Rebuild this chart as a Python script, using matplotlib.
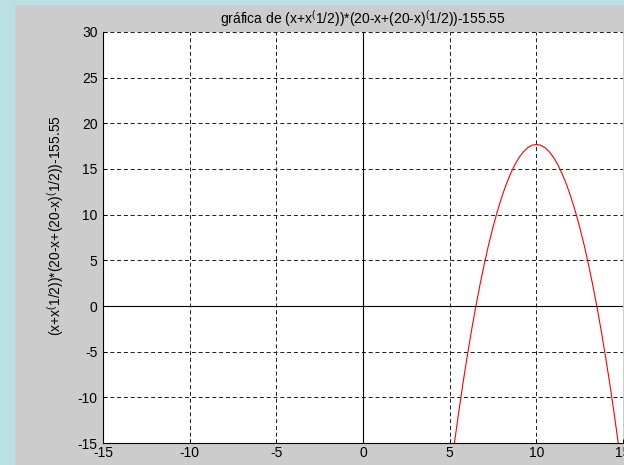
import matplotlib
matplotlib.use("Agg")
import matplotlib.pyplot as plt
from matplotlib.patches import Rectangle

# Curve samples (x, y)
x_vals = [5.0, 5.25, 5.5, 5.75, 6.0, 6.25, 6.5, 6.75, 7.0, 7.25, 7.5, 7.75, 8.0,
          8.25, 8.5, 8.75, 9.0, 9.25, 9.5, 9.75, 10.0, 10.25, 10.5, 10.75, 11.0,
          11.25, 11.5, 11.75, 12.0, 12.25, 12.5, 12.75, 13.0, 13.25, 13.5, 13.75,
          14.0, 14.25, 14.5, 14.75, 15.0]
y_vals = [-18.98, -15.36, -11.92, -8.68, -5.64, -2.79, -0.13, 2.34, 4.63, 6.73,
          8.64, 10.36, 11.90, 13.26, 14.43, 15.43, 16.25, 16.88, 17.33, 17.60,
          17.69, 17.60, 17.33, 16.88, 16.25, 15.43, 14.43, 13.26, 11.90, 10.36,
          8.64, 6.73, 4.63, 2.34, -0.13, -2.79, -5.64, -8.68, -11.92, -15.36, -18.98]
x_ticks = [-15, -10, -5, 0, 5, 10, 15]
y_ticks = [-15, -10, -5, 0, 5, 10, 15, 20, 25, 30]

title = "gráfica de (x+x$^{(}$1/2))*(20-x+(20-x)$^{(}$1/2))-155.55"
ylabel = "(x+x$^{(}$1/2))*(20-x+(20-x)$^{(}$1/2))-155.55"

plt.rcParams['font.family'] = ['Liberation Sans', 'DejaVu Sans']
plt.rcParams['mathtext.fontset'] = 'custom'
plt.rcParams['mathtext.rm'] = 'Liberation Sans'
plt.rcParams['axes.unicode_minus'] = False

W, H = 624, 465
fig = plt.figure(figsize=(W / 100, H / 100), dpi=100)
fig.patch.set_facecolor('#b9e0e3')
fig.patches.append(Rectangle((15 / W, 0), 1 - 15 / W, (H - 5) / H,
                             transform=fig.transFigure, facecolor='#cccccc',
                             edgecolor='none', zorder=-10))

ax = fig.add_axes([103 / W, (H - 443) / H, (623 - 103) / W, (443 - 32) / H])
ax.set_facecolor('white')

grid_kw = dict(color='#222222', lw=0.72, linestyle=(0, (4, 2.8)), zorder=1)
for xt in x_ticks:
    if xt != 0:
        ax.axvline(xt, **grid_kw)
for yt in y_ticks:
    if yt != 0:
        ax.axhline(yt, **grid_kw)
ax.axvline(0, color='black', lw=0.8, zorder=2)
ax.axhline(0, color='black', lw=0.8, zorder=2)

ax.plot(x_vals, y_vals, color='red', lw=0.8, zorder=3)

ax.set_xlim(-15, 15)
ax.set_ylim(-15, 30)
ax.set_xticks(x_ticks)
ax.set_yticks(y_ticks)
ax.tick_params(direction='in', length=3, width=0.7, labelsize=10,
               colors='black', top=False, right=False)
ax.tick_params(axis='x', pad=2)
ax.tick_params(axis='y', pad=4)
for s in ['top', 'right']:
    ax.spines[s].set_visible(False)
for s in ['left', 'bottom']:
    ax.spines[s].set_linewidth(0.8)
    ax.spines[s].set_color('black')

ax.set_title(title, fontsize=10, pad=6)
ax.set_ylabel(ylabel, fontsize=10)
ax.yaxis.set_label_coords(-0.072, 0.53)

fig.savefig('out.png', dpi=100, facecolor=fig.get_facecolor())
